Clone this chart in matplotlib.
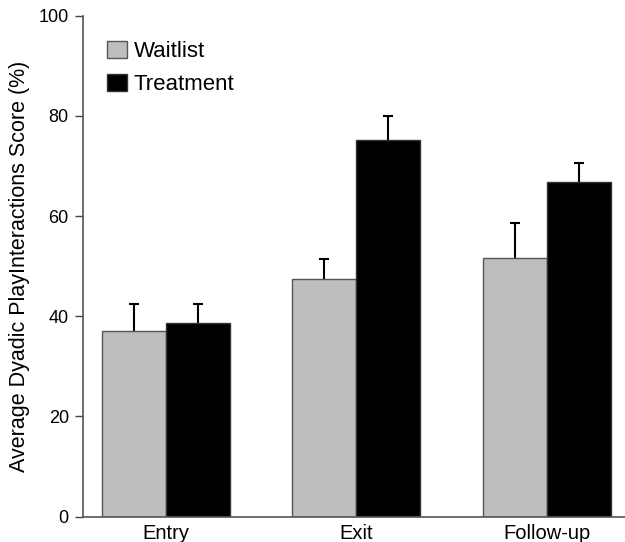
import numpy as np
import matplotlib.pyplot as plt

plt.rcParams['font.family'] = ['Liberation Sans', 'DejaVu Sans']

phases = ['Entry', 'Exit', 'Follow-up']
waitlist = [37.1, 47.5, 51.6]
waitlist_err = [5.4, 4.0, 7.1]
treatment = [38.7, 75.1, 66.8]
treatment_err = [3.8, 4.8, 3.8]

fig = plt.figure(figsize=(6.25, 5.42), dpi=100)
ax = fig.add_axes([0.1323, 0.0467, 0.8677, 0.9244])

x = np.arange(len(phases))
w = 0.336
ax.bar(x - w/2, waitlist, w, color='#bebebe', edgecolor='#555555', linewidth=1.0,
       label='Waitlist', zorder=2)
ax.bar(x + w/2, treatment, w, color='black', edgecolor='#333333', linewidth=1.0,
       label='Treatment', zorder=2)

# only the upper half of each error bar is drawn
for xs, ys, es in [(x - w/2, waitlist, waitlist_err), (x + w/2, treatment, treatment_err)]:
    eb = ax.errorbar(xs, ys, yerr=[np.zeros(3), es], fmt='none', ecolor='black',
                     elinewidth=1.5, capsize=3.3, capthick=1.5, zorder=1)
    eb[1][0].set_visible(False)

ax.set_ylim(0, 100)
ax.set_xlim(-0.437, 2.41)
ax.set_yticks(range(0, 101, 20))
ax.set_xticks(x)
ax.set_xticklabels(phases, fontsize=14.5)
ax.tick_params(axis='y', labelsize=13, length=6, width=1, color='#444444', pad=4)
ax.tick_params(axis='x', length=0, pad=5)
ax.set_ylabel('Average Dyadic PlayInteractions Score (%)', fontsize=15.5, labelpad=6)

for s in ['top', 'right']:
    ax.spines[s].set_visible(False)
for s in ['left', 'bottom']:
    ax.spines[s].set_color('#555555')
    ax.spines[s].set_linewidth(1.2)

ax.legend(loc='upper left', frameon=False, fontsize=16, handlelength=0.9,
          handleheight=0.77, labelspacing=0.55, handletextpad=0.3, borderpad=0,
          borderaxespad=0, bbox_to_anchor=(0.045, 0.949))

fig.savefig('out.png', dpi=100)
